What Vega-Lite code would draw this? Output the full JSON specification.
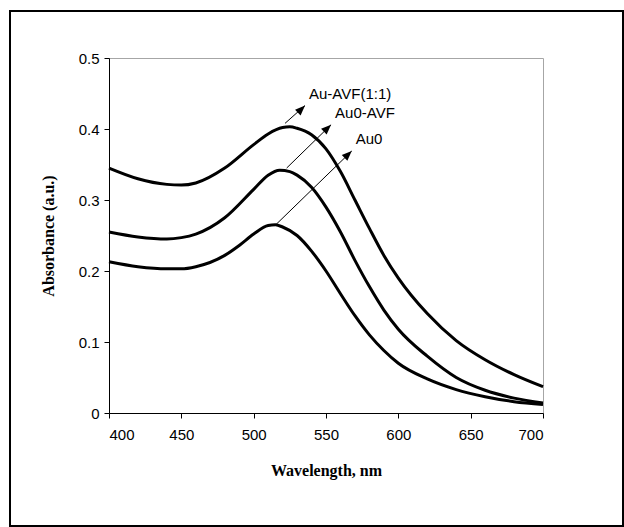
{
  "$schema": "https://vega.github.io/schema/vega-lite/v6.json",
  "width": 434,
  "height": 355,
  "autosize": {"type": "none"},
  "padding": {"left": 109, "top": 58, "right": 81, "bottom": 114},
  "background": "white",
  "config": {
    "view": {"stroke": "#a6a6a6", "strokeWidth": 1},
    "axis": {
      "domainColor": "black", "tickColor": "black", "grid": false,
      "labelFont": "Liberation Sans", "labelFontSize": 15, "labelColor": "black",
      "titleFont": "Liberation Serif", "titleFontSize": 16, "titleFontWeight": "bold", "titleColor": "black",
      "tickSize": 5
    }
  },
  "datasets": {
    "spectra": [
      {"series": "Au-AVF(1:1)", "wavelength": 400, "absorbance": 0.345},
      {"series": "Au-AVF(1:1)", "wavelength": 420, "absorbance": 0.330},
      {"series": "Au-AVF(1:1)", "wavelength": 440, "absorbance": 0.322},
      {"series": "Au-AVF(1:1)", "wavelength": 450, "absorbance": 0.321},
      {"series": "Au-AVF(1:1)", "wavelength": 460, "absorbance": 0.324},
      {"series": "Au-AVF(1:1)", "wavelength": 480, "absorbance": 0.345},
      {"series": "Au-AVF(1:1)", "wavelength": 500, "absorbance": 0.378},
      {"series": "Au-AVF(1:1)", "wavelength": 510, "absorbance": 0.393},
      {"series": "Au-AVF(1:1)", "wavelength": 520, "absorbance": 0.402},
      {"series": "Au-AVF(1:1)", "wavelength": 525, "absorbance": 0.403},
      {"series": "Au-AVF(1:1)", "wavelength": 530, "absorbance": 0.401},
      {"series": "Au-AVF(1:1)", "wavelength": 540, "absorbance": 0.392},
      {"series": "Au-AVF(1:1)", "wavelength": 550, "absorbance": 0.372},
      {"series": "Au-AVF(1:1)", "wavelength": 560, "absorbance": 0.340},
      {"series": "Au-AVF(1:1)", "wavelength": 570, "absorbance": 0.300},
      {"series": "Au-AVF(1:1)", "wavelength": 580, "absorbance": 0.260},
      {"series": "Au-AVF(1:1)", "wavelength": 590, "absorbance": 0.222},
      {"series": "Au-AVF(1:1)", "wavelength": 600, "absorbance": 0.190},
      {"series": "Au-AVF(1:1)", "wavelength": 620, "absorbance": 0.140},
      {"series": "Au-AVF(1:1)", "wavelength": 640, "absorbance": 0.102},
      {"series": "Au-AVF(1:1)", "wavelength": 660, "absorbance": 0.075},
      {"series": "Au-AVF(1:1)", "wavelength": 680, "absorbance": 0.054},
      {"series": "Au-AVF(1:1)", "wavelength": 700, "absorbance": 0.037},
      {"series": "Au0-AVF", "wavelength": 400, "absorbance": 0.255},
      {"series": "Au0-AVF", "wavelength": 420, "absorbance": 0.248},
      {"series": "Au0-AVF", "wavelength": 440, "absorbance": 0.245},
      {"series": "Au0-AVF", "wavelength": 450, "absorbance": 0.247},
      {"series": "Au0-AVF", "wavelength": 460, "absorbance": 0.252},
      {"series": "Au0-AVF", "wavelength": 480, "absorbance": 0.275},
      {"series": "Au0-AVF", "wavelength": 500, "absorbance": 0.315},
      {"series": "Au0-AVF", "wavelength": 510, "absorbance": 0.335},
      {"series": "Au0-AVF", "wavelength": 518, "absorbance": 0.342},
      {"series": "Au0-AVF", "wavelength": 525, "absorbance": 0.340},
      {"series": "Au0-AVF", "wavelength": 530, "absorbance": 0.335},
      {"series": "Au0-AVF", "wavelength": 540, "absorbance": 0.318},
      {"series": "Au0-AVF", "wavelength": 550, "absorbance": 0.290},
      {"series": "Au0-AVF", "wavelength": 560, "absorbance": 0.255},
      {"series": "Au0-AVF", "wavelength": 570, "absorbance": 0.215},
      {"series": "Au0-AVF", "wavelength": 580, "absorbance": 0.178},
      {"series": "Au0-AVF", "wavelength": 590, "absorbance": 0.145},
      {"series": "Au0-AVF", "wavelength": 600, "absorbance": 0.118},
      {"series": "Au0-AVF", "wavelength": 620, "absorbance": 0.080},
      {"series": "Au0-AVF", "wavelength": 640, "absorbance": 0.050},
      {"series": "Au0-AVF", "wavelength": 660, "absorbance": 0.032},
      {"series": "Au0-AVF", "wavelength": 680, "absorbance": 0.021},
      {"series": "Au0-AVF", "wavelength": 700, "absorbance": 0.014},
      {"series": "Au0", "wavelength": 400, "absorbance": 0.213},
      {"series": "Au0", "wavelength": 420, "absorbance": 0.206},
      {"series": "Au0", "wavelength": 440, "absorbance": 0.203},
      {"series": "Au0", "wavelength": 450, "absorbance": 0.203},
      {"series": "Au0", "wavelength": 460, "absorbance": 0.206},
      {"series": "Au0", "wavelength": 480, "absorbance": 0.222},
      {"series": "Au0", "wavelength": 490, "absorbance": 0.236},
      {"series": "Au0", "wavelength": 500, "absorbance": 0.252},
      {"series": "Au0", "wavelength": 510, "absorbance": 0.264},
      {"series": "Au0", "wavelength": 515, "absorbance": 0.265},
      {"series": "Au0", "wavelength": 520, "absorbance": 0.262},
      {"series": "Au0", "wavelength": 530, "absorbance": 0.250},
      {"series": "Au0", "wavelength": 540, "absorbance": 0.228},
      {"series": "Au0", "wavelength": 550, "absorbance": 0.200},
      {"series": "Au0", "wavelength": 560, "absorbance": 0.168},
      {"series": "Au0", "wavelength": 570, "absorbance": 0.137},
      {"series": "Au0", "wavelength": 580, "absorbance": 0.110},
      {"series": "Au0", "wavelength": 590, "absorbance": 0.088},
      {"series": "Au0", "wavelength": 600, "absorbance": 0.070},
      {"series": "Au0", "wavelength": 620, "absorbance": 0.048},
      {"series": "Au0", "wavelength": 640, "absorbance": 0.033},
      {"series": "Au0", "wavelength": 660, "absorbance": 0.023},
      {"series": "Au0", "wavelength": 680, "absorbance": 0.016},
      {"series": "Au0", "wavelength": 700, "absorbance": 0.012}
    ],
    "arrows": [
      {"label": "Au-AVF(1:1)", "x1": 521.7, "y1": 0.408, "x2": 535.5, "y2": 0.433},
      {"label": "Au0-AVF", "x1": 522.8, "y1": 0.345, "x2": 553.5, "y2": 0.406},
      {"label": "Au0", "x1": 514.7, "y1": 0.264, "x2": 567.8, "y2": 0.369}
    ]
  },
  "layer": [
    {
      "data": {"values": [{}]},
      "mark": {"type": "rect", "fill": null, "stroke": "black", "strokeWidth": 2},
      "encoding": {
        "x": {"value": -99},
        "x2": {"value": 514},
        "y": {"value": -47},
        "y2": {"value": 468}
      }
    },
    {
      "data": {"name": "spectra"},
      "mark": {"type": "line", "color": "black", "strokeWidth": 3, "interpolate": "monotone"},
      "encoding": {
        "x": {"field": "wavelength", "type": "quantitative",
              "scale": {"domain": [400, 700], "nice": false, "zero": false},
              "axis": {"values": [400, 450, 500, 550, 600, 650, 700], "title": "Wavelength, nm", "titlePadding": 20, "labelPadding": 9}},
        "y": {"field": "absorbance", "type": "quantitative",
              "scale": {"domain": [0, 0.5], "nice": false},
              "axis": {"values": [0, 0.1, 0.2, 0.3, 0.4, 0.5], "format": "~g", "title": "Absorbance (a.u.)", "titlePadding": 22, "labelPadding": 5}},
        "detail": {"field": "series", "type": "nominal"}
      }
    },
    {
      "data": {"name": "arrows"},
      "mark": {"type": "rule", "color": "black", "strokeWidth": 1},
      "encoding": {
        "x": {"field": "x1", "type": "quantitative"},
        "y": {"field": "y1", "type": "quantitative"},
        "x2": {"field": "x2"},
        "y2": {"field": "y2"}
      }
    },
    {
      "data": {"name": "arrows"},
      "mark": {"type": "point", "shape": "M0,0L-0.8,2L0.8,2Z", "filled": true, "color": "black", "size": 100, "angle": 46, "opacity": 1},
      "encoding": {
        "x": {"field": "x2", "type": "quantitative"},
        "y": {"field": "y2", "type": "quantitative"}
      }
    },
    {
      "data": {"name": "arrows"},
      "mark": {"type": "text", "font": "Liberation Sans", "fontSize": 15, "align": "left", "baseline": "middle", "dx": 4, "dy": -12, "color": "black"},
      "encoding": {
        "x": {"field": "x2", "type": "quantitative"},
        "y": {"field": "y2", "type": "quantitative"},
        "text": {"field": "label"}
      }
    }
  ]
}
